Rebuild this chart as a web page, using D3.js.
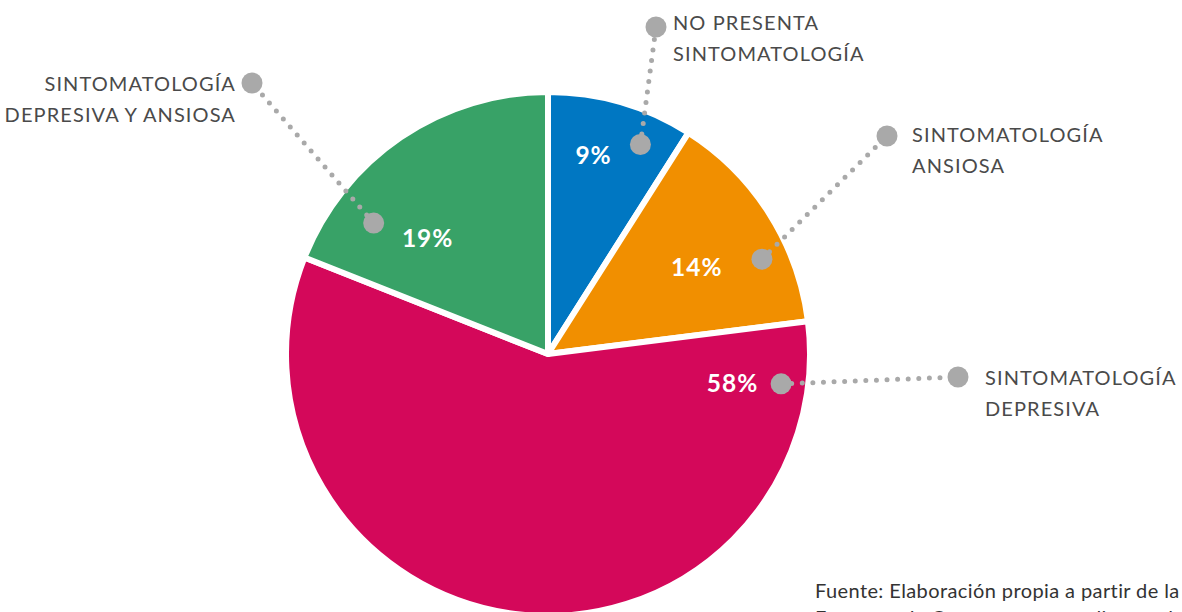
<!DOCTYPE html>
<html>
<head>
<meta charset="utf-8">
<script src="https://cdn.jsdelivr.net/npm/d3@7"></script>
<style>
  html, body { margin: 0; padding: 0; background: #fff; }
  svg { display: block; }
  text { font-family: Lato, "Noto Sans", sans-serif; }
</style>
</head>
<body>
<svg id="chart" width="1182" height="612"></svg>
<script>
// ---- data ----
const categories = ["NO PRESENTA SINTOMATOLOGÍA", "SINTOMATOLOGÍA ANSIOSA", "SINTOMATOLOGÍA DEPRESIVA", "SINTOMATOLOGÍA DEPRESIVA Y ANSIOSA"];
const labelLines = [["NO PRESENTA", "SINTOMATOLOGÍA"], ["SINTOMATOLOGÍA", "ANSIOSA"], ["SINTOMATOLOGÍA", "DEPRESIVA"], ["SINTOMATOLOGÍA", "DEPRESIVA Y ANSIOSA"]];
const values = [9, 14, 58, 19];
const colors = ["#0077C2", "#F18F00", "#D4085A", "#38A267"];
const sourceLines = ["Fuente: Elaboración propia a partir de la", "Encuesta de Consumo en estudiantes de la U"];

// ---- layout ----
const W = 1182, H = 612;
const cx = 548, cy = 354, R = 262;
// percentage label placement (angle in degrees from 12 o'clock, radius)
const pctPos = [[12.9, 204], [59.9, 172], [99.2, 187], [313.9, 167]];
// inner callout dot (angle, radius)
const dotPos = [[23.8, 229], [66.1, 234], [97.3, 235], [306.9, 218]];
// outer callout dot absolute
const outerDot = [[656, 27], [887, 136], [958, 377], [252, 83]];
// category text anchor
const textPos = [[673, 30, "start"], [912, 142, "start"], [985, 385, "start"], [236, 91, "end"]];

const svg = d3.select("#chart");
const g = svg.append("g").attr("transform", `translate(${cx},${cy})`);

const pie = d3.pie().sort(null).value(d => d);
const arc = d3.arc().innerRadius(0).outerRadius(R);
const arcs = pie(values);

g.selectAll("path.slice").data(arcs).join("path")
  .attr("class", "slice")
  .attr("d", arc)
  .attr("fill", (d, i) => colors[i])
  .attr("stroke", "#fff")
  .attr("stroke-width", 6)
  .attr("stroke-linejoin", "round");

const polar = (a, r) => [cx + r * Math.sin(a * Math.PI / 180), cy - r * Math.cos(a * Math.PI / 180)];

const grey = "#A9A9A9";
const ann = svg.append("g");
values.forEach((v, i) => {
  const [x1, y1] = polar(dotPos[i][0], dotPos[i][1]);
  const [x2, y2] = outerDot[i];
  ann.append("line")
    .attr("x1", x1).attr("y1", y1).attr("x2", x2).attr("y2", y2)
    .attr("stroke", grey).attr("stroke-width", 5)
    .attr("stroke-linecap", "round")
    .attr("stroke-dasharray", "0 10.6");
  ann.append("circle").attr("cx", x1).attr("cy", y1).attr("r", 10.5).attr("fill", grey);
  ann.append("circle").attr("cx", x2).attr("cy", y2).attr("r", 10.5).attr("fill", grey);

  const [px, py] = polar(pctPos[i][0], pctPos[i][1]);
  ann.append("text")
    .attr("x", px).attr("y", py + 8.5)
    .attr("text-anchor", "middle")
    .attr("fill", "#fff")
    .attr("font-weight", 700)
    .attr("font-size", 24.5)
    .attr("letter-spacing", 1)
    .text(v + "%");

  const [tx, ty, anchor] = textPos[i];
  const t = ann.append("text")
    .attr("x", tx).attr("y", ty)
    .attr("text-anchor", anchor)
    .attr("fill", "#4a4a4a")
    .attr("font-weight", 400)
    .attr("font-size", 20)
    .attr("letter-spacing", 1.1);
  labelLines[i].forEach((ln, j) => {
    t.append("tspan").attr("x", tx).attr("dy", j === 0 ? 0 : 31).text(ln);
  });
});

const src = svg.append("text")
  .attr("x", 815).attr("y", 598)
  .attr("fill", "#333")
  .attr("font-weight", 400)
  .attr("font-size", 20)
  .attr("letter-spacing", 0.4);
sourceLines.forEach((ln, j) => {
  src.append("tspan").attr("x", 815).attr("dy", j === 0 ? 0 : 27).text(ln);
});
</script>
</body>
</html>
